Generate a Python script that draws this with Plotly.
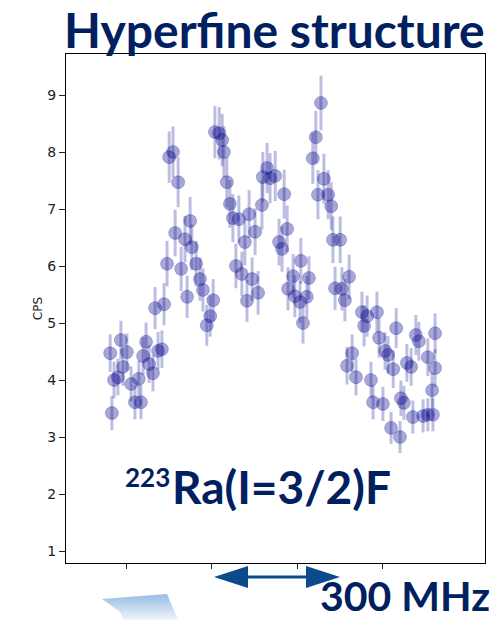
import plotly.graph_objects as go

# Measured hyperfine spectrum: laser detuning (MHz) vs counts per second
freq_mhz = [-437, -433, -428, -419, -412, -407, -398, -388, -379, -370, -365, -360, -353, -346,
            -337, -332, -325, -316, -311, -304, -299, -290, -285, -278, -271, -262, -257, -250,
            -246, -236, -227, -220, -211, -203, -196, -192, -182, -175, -171, -164, -157, -150,
            -143, -136, -129, -122, -117, -112, -105, -98, -91, -82, -80, -70, -63, -51, -42,
            -35, -30, -23, -21, -9, -5, 7, 9, 14, 23, 28, 37, 44, 49, 56, 63, 73, 80, 84, 89,
            101, 105, 112, 117, 122, 129, 138, 152, 157, 164, 173, 178, 187, 192, 201, 206, 213,
            220, 225, 232, 241, 243, 250, 257, 267, 271, 278, 285, 295, 306, 306, 316, 318,
            323, 323]
cps = [4.47, 3.42, 4.00, 4.05, 4.70, 4.23, 4.49, 3.93, 3.61, 4.02, 3.61, 4.42, 4.67, 4.28,
       4.12, 5.26, 4.51, 4.54, 5.33, 6.04, 7.91, 8.00, 6.58, 7.47, 5.95, 6.47, 5.46, 6.79,
       6.33, 6.04, 5.77, 5.58, 4.96, 5.12, 5.40, 8.35, 8.33, 8.21, 8.00, 7.47, 7.09, 6.84,
       6.00, 6.82, 5.86, 6.42, 5.39, 6.91, 5.77, 6.60, 5.53, 7.07, 7.56, 7.72, 7.54, 7.58, 6.42,
       6.30, 7.26, 6.65, 5.60, 5.82, 5.47, 5.37, 6.09, 5.00, 5.46, 5.79, 7.89, 8.26, 7.25, 8.86,
       7.53, 7.25, 7.05, 6.46, 5.61, 6.46, 5.60, 5.40, 4.25, 5.81, 4.47, 4.05, 5.19, 4.95,
       5.12, 4.00, 3.61, 5.19, 4.74, 3.58, 4.51, 4.44, 3.16, 4.19, 4.91, 3.00, 3.68, 3.60,
       4.30, 4.23, 3.35, 4.79, 4.68, 3.37, 4.40, 3.39, 3.82, 3.39, 4.82, 4.21]
cps_err = [0.33, 0.30, 0.32, 0.32, 0.34, 0.33, 0.33, 0.31, 0.30, 0.32, 0.30, 0.33, 0.34, 0.33,
           0.32, 0.37, 0.33, 0.33, 0.37, 0.40, 0.45, 0.45, 0.41, 0.44, 0.39, 0.41, 0.37, 0.42,
           0.40, 0.40, 0.38, 0.38, 0.36, 0.36, 0.37, 0.46, 0.46, 0.46, 0.45, 0.44, 0.42, 0.42,
           0.39, 0.42, 0.39, 0.41, 0.37, 0.42, 0.38, 0.41, 0.38, 0.43, 0.44, 0.44, 0.44, 0.44,
           0.41, 0.40, 0.43, 0.41, 0.38, 0.39, 0.37, 0.37, 0.40, 0.36, 0.37, 0.38, 0.45, 0.46,
           0.43, 0.48, 0.44, 0.43, 0.42, 0.41, 0.38, 0.41, 0.38, 0.37, 0.33, 0.39, 0.33, 0.32,
           0.36, 0.36, 0.36, 0.32, 0.30, 0.36, 0.35, 0.30, 0.33, 0.33, 0.28, 0.33, 0.35, 0.28,
           0.31, 0.30, 0.33, 0.33, 0.29, 0.35, 0.34, 0.29, 0.33, 0.29, 0.31, 0.29, 0.35, 0.33]

x_ticks = [-400, -200, 0, 200]
y_ticks = [1, 2, 3, 4, 5, 6, 7, 8, 9]

title_text = "Hyperfine structure"
mass_number = "223"
isotope_text = "Ra(I=3/2)F"
scale_text = "300 MHz"

W, H = 499, 620
# plot box edges in pixels
L, R, T, B = 66, 485, 54, 563

NAVY = "#002060"
ARROW = "#0B4A8B"

fig = go.Figure()

fig.add_trace(go.Scatter(
    x=freq_mhz, y=cps, mode="markers",
    marker=dict(size=13, color="rgba(0,0,139,0.34)",
                line=dict(width=1, color="rgba(0,0,139,0.22)")),
    error_y=dict(type="data", array=cps_err, visible=True,
                 color="rgba(0,0,139,0.26)", thickness=3, width=0),
    showlegend=False, hoverinfo="skip",
))

# decorative slide graphic in the lower-left corner (pixel overlay axes)
fig.add_trace(go.Scatter(
    x=[102, 167, 178, 124, 120, 102], y=[599, 594, 620, 620, 612, 599],
    xaxis="x2", yaxis="y2", mode="lines", line=dict(width=0),
    fill="toself",
    fillgradient=dict(type="vertical",
                      colorscale=[[0, "rgb(238,244,251)"], [1, "rgb(150,188,228)"]]),
    showlegend=False, hoverinfo="skip",
))

shapes = [
    dict(type="line", xref="x2", yref="y2", x0=240, x1=312, y0=577, y1=577,
         line=dict(color=ARROW, width=3)),
    dict(type="path", xref="x2", yref="y2", path="M 214,577 L 248,566 L 248,588 Z",
         fillcolor=ARROW, line=dict(width=0)),
    dict(type="path", xref="x2", yref="y2", path="M 340,577 L 306,566 L 306,588 Z",
         fillcolor=ARROW, line=dict(width=0)),
]

annotations = [
    dict(text=f"<b>{title_text}</b>", x=274, y=29, xref="x2", yref="y2",
         xanchor="center", yanchor="middle", showarrow=False,
         font=dict(family="Lato", size=48, color=NAVY)),
    dict(text=f"<b>{mass_number}</b>", x=172, y=477, xref="x2", yref="y2",
         xanchor="right", yanchor="middle", showarrow=False,
         font=dict(family="Lato", size=26, color=NAVY)),
    dict(text=f"<b>{isotope_text}</b>", x=170, y=486, xref="x2", yref="y2",
         xanchor="left", yanchor="middle", showarrow=False,
         font=dict(family="Lato", size=46, color=NAVY)),
    dict(text=f"<b>{scale_text}</b>", x=405, y=595, xref="x2", yref="y2",
         xanchor="center", yanchor="middle", showarrow=False,
         font=dict(family="Lato", size=41, color=NAVY)),
]

# pixel -> data mapping of the plot box
mhz_per_px = 200 / 85.5
x0_px = 297
y_per_px = 1 / 57
y9_px = 95

fig.update_layout(
    width=W, height=H,
    margin=dict(l=0, r=0, t=0, b=0),
    paper_bgcolor="white", plot_bgcolor="rgba(0,0,0,0)",
    shapes=shapes, annotations=annotations,
    xaxis=dict(domain=[L / W, R / W],
               range=[(L - x0_px) * mhz_per_px, (R - x0_px) * mhz_per_px],
               tickvals=x_ticks, showticklabels=False, ticks="outside", ticklen=5,
               tickcolor="#222", showline=True, mirror=True, linecolor="black",
               linewidth=1, showgrid=False, zeroline=False),
    yaxis=dict(domain=[(H - B) / H, (H - T) / H],
               range=[9 - (B - y9_px) * y_per_px, 9 + (y9_px - T) * y_per_px],
               tickvals=y_ticks, ticks="outside", ticklen=6, tickcolor="#222",
               tickfont=dict(family="DejaVu Sans", size=14, color="#222"),
               title=dict(text="CPS", font=dict(family="DejaVu Sans", size=12, color="#222"),
                          standoff=2),
               showline=True, mirror=True, linecolor="black", linewidth=1,
               showgrid=False, zeroline=False),
    xaxis2=dict(domain=[0, 1], range=[0, W], visible=False, anchor="y2",
                fixedrange=True),
    yaxis2=dict(domain=[0, 1], range=[H, 0], visible=False, anchor="x2",
                fixedrange=True),
)

fig.write_html("out.html")
